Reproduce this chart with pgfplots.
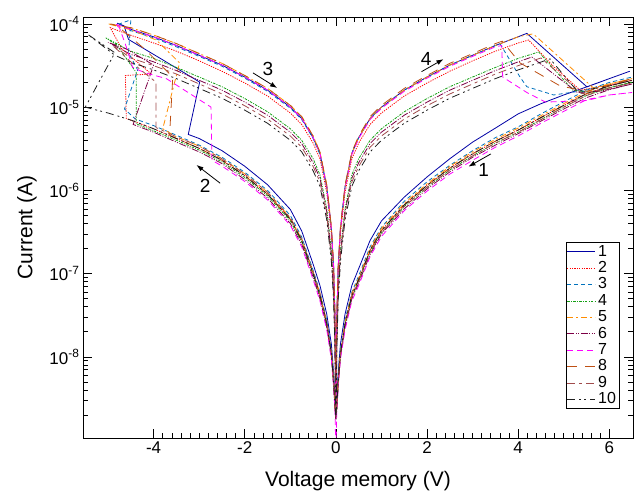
\documentclass[border=0pt]{standalone}
\usepackage{fontspec}
\setmainfont{Liberation Sans}
\usepackage{pgfplots}
\pgfplotsset{compat=1.18}
\usetikzlibrary{arrows.meta}

\definecolor{c1}{RGB}{0,0,165}
\definecolor{c2}{RGB}{255,0,0}
\definecolor{c3}{RGB}{0,114,189}
\definecolor{c4}{RGB}{20,160,20}
\definecolor{c5}{RGB}{255,140,0}
\definecolor{c6}{RGB}{125,0,70}
\definecolor{c7}{RGB}{255,0,255}
\definecolor{c8}{RGB}{190,80,20}
\definecolor{c9}{RGB}{160,75,75}
\definecolor{c10}{RGB}{30,30,30}

\pgfplotsset{
  s1/.style={c1, line width=0.8pt, solid},
  s2/.style={c2, line width=0.8pt, dash pattern=on 1.2pt off 1.2pt},
  s3/.style={c3, line width=0.8pt, dash pattern=on 4pt off 3pt},
  s4/.style={c4, line width=0.8pt, dash pattern=on 2.5pt off 1.2pt on 1pt off 1.2pt},
  s5/.style={c5, line width=0.8pt, dash pattern=on 6pt off 3pt on 2pt off 3pt},
  s6/.style={c6, line width=0.8pt, dash pattern=on 7pt off 1.5pt on 1pt off 1.5pt on 1pt off 1.5pt},
  s7/.style={c7, line width=0.8pt, dash pattern=on 6pt off 4pt},
  s8/.style={c8, line width=0.8pt, dash pattern=on 10pt off 8pt},
  s9/.style={c9, line width=0.8pt, dash pattern=on 8pt off 4pt on 3pt off 4pt},
  s10/.style={c10, line width=0.8pt, dash pattern=on 8pt off 4pt on 2pt off 3pt on 2pt off 4pt},
}

\begin{document}
\begin{tikzpicture}
\useasboundingbox (-83pt,-55pt) rectangle (554pt,438pt);
\begin{axis}[
    at={(0pt,0pt)}, anchor=south west,
    scale only axis,
    width=550pt, height=421pt,
    ymode=log, log basis y=10,
    xmin=-5.55, xmax=6.52,
    ymin=1.06e-9, ymax=1.21e-4,
    xtick={-4,-2,0,2,4,6},
    xticklabels={-4,-2,0,2,4,6},
    minor x tick num=9,
    yticklabel={10\textsuperscript{\pgfmathparse{int(round(\tick))}\pgfmathresult}},
    tick align=inside,
    major tick length=9pt,
    minor tick length=5pt,
    axis line style={line width=0.8pt},
    every tick/.style={black, line width=0.7pt},
    ticklabel style={font=\fontsize{17}{20}\selectfont},
    /pgf/number format/assume math mode=true,
    xlabel={Voltage memory (V)},
    ylabel={Current (A)},
    xlabel shift=11pt,
    ylabel shift=6pt,
    label style={font=\fontsize{21}{24}\selectfont},
    legend style={at={(0.976,0.069)}, anchor=south east, draw=black,
      line width=0.7pt, fill=white, font=\fontsize{16}{16}\selectfont,
      inner xsep=1pt, inner ysep=1pt, row sep=0pt,
      nodes={text height=11.5pt, text depth=2.9pt, inner xsep=2.5pt, inner ysep=1pt},
      cells={anchor=west}},
    legend image code/.code={\draw[#1] (0pt,0pt) -- (28pt,0pt);},
]

% 1
\addplot[s1] coordinates {
(0.005,5e-9)(0.02,3e-8)(0.05,1.2e-7)(0.1,3.5e-7)(0.2,1.1e-6)(0.35,2.8e-6)(0.5,4.3e-6)(0.75,7.3e-6)(1,1e-5)(1.5,1.6e-5)(2,2.3e-5)(2.5,3.2e-5)(3,4.2e-5)(3.5,5.5e-5)(4,7e-5)(4.19,7.7e-5)
(5.51,1.75e-5)(6,2.2e-5)(6.45,2.7e-5)
(6,2.2e-5)(5.5,1.75e-5)(5,1.4e-5)(4.5,1.1e-5)(4,8.3e-6)(3.5,5.6e-6)(3,3.8e-6)(2.5,2.4e-6)(2,1.45e-6)(1.5,8.3e-7)(1,4.3e-7)(0.75,2.5e-7)(0.5,1.15e-7)(0.35,7.2e-8)(0.2,3.25e-8)(0.1,1.43e-8)(0.05,6.5e-9)(0.02,3.4e-9)(0.005,2.4e-9)
(-0.005,2.4e-9)(-0.02,3.4e-9)(-0.05,6.5e-9)(-0.1,1.43e-8)(-0.2,3.25e-8)(-0.35,7.2e-8)(-0.5,1.3e-7)(-0.75,3.25e-7)(-1,5.9e-7)(-1.5,1.17e-6)(-2,1.95e-6)(-2.5,3e-6)(-3,4.2e-6)(-3.24,4.7e-6)
(-2.99,2e-5)(-3.87,3.9e-5)(-4.55,6.5e-5)(-4.65,9.5e-5)(-4.8,1.02e-4)
(-4.5,8.6e-5)(-4,7e-5)(-3.5,5.5e-5)(-3,4.2e-5)(-2.5,3.2e-5)(-2,2.3e-5)(-1.5,1.6e-5)(-1,1e-5)(-0.75,7.3e-6)(-0.5,4.3e-6)(-0.35,2.8e-6)(-0.2,1.1e-6)(-0.1,3.5e-7)(-0.05,1.2e-7)(-0.02,3e-8)(-0.005,5e-9)
};
\addlegendentry{1}

% 2
\addplot[s2] coordinates {
(0.005,4.3e-9)(0.02,2.6e-8)(0.05,1e-7)(0.1,3e-7)(0.2,9.4e-7)(0.35,2.4e-6)(0.5,3.7e-6)(0.75,6.2e-6)(1,8.5e-6)(1.5,1.36e-5)(2,1.95e-5)(2.5,2.7e-5)(3,3.6e-5)(3.5,4.7e-5)(4,5.9e-5)(4.23,6.4e-5)
(4.77,3.1e-5)(5.36,1.6e-5)(6,1.85e-5)(6.5,2.1e-5)
(6,1.8e-5)(5.5,1.45e-5)(5,1.05e-5)(4.5,7.5e-6)(4,5.3e-6)(3.5,3.9e-6)(3,2.75e-6)(2.5,1.85e-6)(2,1.15e-6)(1.5,6.7e-7)(1,3.3e-7)(0.75,1.9e-7)(0.5,8.5e-8)(0.35,5.5e-8)(0.2,2.5e-8)(0.1,1.1e-8)(0.05,5e-9)(0.02,2.6e-9)(0.005,2e-9)
(-0.005,2e-9)(-0.02,2.6e-9)(-0.05,5e-9)(-0.1,1.1e-8)(-0.2,2.5e-8)(-0.35,5.5e-8)(-0.5,1e-7)(-0.75,2.5e-7)(-1,4.5e-7)(-1.5,9e-7)(-2,1.5e-6)(-2.5,2.3e-6)(-3,3.2e-6)(-3.5,4.2e-6)(-4,5.5e-6)(-4.6,7.3e-6)
(-4.62,2.4e-5)(-4.05,2.5e-5)(-4.7,5e-5)(-4.95,9e-5)
(-4.5,7.3e-5)(-4,5.9e-5)(-3.5,4.7e-5)(-3,3.6e-5)(-2.5,2.7e-5)(-2,1.95e-5)(-1.5,1.36e-5)(-1,8.5e-6)(-0.75,6.2e-6)(-0.5,3.7e-6)(-0.35,2.4e-6)(-0.2,9.4e-7)(-0.1,3e-7)(-0.05,1e-7)(-0.02,2.6e-8)(-0.005,4.3e-9)
};
\addlegendentry{2}

% 3
\addplot[s3] coordinates {
(0.005,5e-9)(0.02,3e-8)(0.05,1.2e-7)(0.1,3.5e-7)(0.2,1.1e-6)(0.35,2.8e-6)(0.5,4.3e-6)(0.75,7.3e-6)(1,1e-5)(1.5,1.6e-5)(2,2.3e-5)(2.5,3.2e-5)(3,4.2e-5)(3.5,5.5e-5)(3.6,5.8e-5)
(4.04,2.3e-5)(4.19,1.76e-5)(4.78,1.4e-5)(5.5,1.6e-5)(6,1.98e-5)(6.5,2.3e-5)
(6,1.98e-5)(5.5,1.6e-5)(5,1.16e-5)(4.5,8.3e-6)(4,5.8e-6)(3.5,4.3e-6)(3,3e-6)(2.5,2e-6)(2,1.27e-6)(1.5,7.4e-7)(1,3.6e-7)(0.75,2.1e-7)(0.5,9.4e-8)(0.35,6e-8)(0.2,2.75e-8)(0.1,1.2e-8)(0.05,5.5e-9)(0.02,2.9e-9)(0.005,2.2e-9)
(-0.005,2.2e-9)(-0.02,2.9e-9)(-0.05,5.5e-9)(-0.1,1.2e-8)(-0.2,2.75e-8)(-0.35,6e-8)(-0.5,1.1e-7)(-0.75,2.75e-7)(-1,5e-7)(-1.5,1e-6)(-2,1.65e-6)(-2.5,2.5e-6)(-3,3.5e-6)(-3.5,4.6e-6)(-4,6e-6)(-4.4,7.2e-6)(-4.64,9.5e-6)
(-4.35,2.8e-5)(-4.55,4.5e-5)(-4.5,1.12e-4)(-4.75,1e-4)
(-4.5,8.3e-5)(-4,6.8e-5)(-3.5,5.3e-5)(-3,4.07e-5)(-2.5,3.1e-5)(-2,2.23e-5)(-1.5,1.55e-5)(-1,9.7e-6)(-0.75,7.1e-6)(-0.5,4.2e-6)(-0.35,2.7e-6)(-0.2,1.07e-6)(-0.1,3.4e-7)(-0.05,1.16e-7)(-0.02,2.9e-8)(-0.005,4.8e-9)
};
\addlegendentry{3}

% 4
\addplot[s4] coordinates {
(0.005,2.8e-9)(0.02,1.65e-8)(0.05,6.6e-8)(0.1,1.9e-7)(0.2,6e-7)(0.35,1.54e-6)(0.5,2.4e-6)(0.75,4e-6)(1,5.5e-6)(1.5,8.8e-6)(2,1.27e-5)(2.5,1.76e-5)(3,2.3e-5)(3.5,3e-5)(4,3.85e-5)(4.45,4.6e-5)
(5.2,1.6e-5)(5.6,1.5e-5)(6,1.71e-5)(6.5,2e-5)
(6,1.71e-5)(5.5,1.38e-5)(5,1e-5)(4.5,7.1e-6)(4,5e-6)(3.5,3.7e-6)(3,2.6e-6)(2.5,1.76e-6)(2,1.09e-6)(1.5,6.4e-7)(1,3.1e-7)(0.75,1.8e-7)(0.5,8.1e-8)(0.35,5.2e-8)(0.2,2.4e-8)(0.1,1.05e-8)(0.05,4.8e-9)(0.02,2.5e-9)(0.005,1.9e-9)
(-0.005,1.9e-9)(-0.02,2.5e-9)(-0.05,4.8e-9)(-0.1,1.05e-8)(-0.2,2.4e-8)(-0.35,5.2e-8)(-0.5,9.5e-8)(-0.75,2.4e-7)(-1,4.3e-7)(-1.5,8.6e-7)(-2,1.43e-6)(-2.5,2.2e-6)(-3,3.05e-6)(-3.5,4e-6)(-4,5.2e-6)(-4.38,6.3e-6)
(-4.38,2.6e-5)(-4.8,5.5e-5)(-5.05,6.8e-5)
(-4.5,4.7e-5)(-4,3.85e-5)(-3.5,3e-5)(-3,2.3e-5)(-2.5,1.76e-5)(-2,1.27e-5)(-1.5,8.8e-6)(-1,5.5e-6)(-0.75,4e-6)(-0.5,2.4e-6)(-0.35,1.54e-6)(-0.2,6e-7)(-0.1,1.9e-7)(-0.05,6.6e-8)(-0.02,1.65e-8)(-0.005,2.8e-9)
};
\addlegendentry{4}

% 5
\addplot[s5] coordinates {
(0.005,5e-9)(0.02,3e-8)(0.05,1.2e-7)(0.1,3.5e-7)(0.2,1.1e-6)(0.35,2.8e-6)(0.5,4.3e-6)(0.75,7.3e-6)(1,1e-5)(1.5,1.6e-5)(2,2.3e-5)(2.5,3.2e-5)(3,4.2e-5)(3.5,5.5e-5)(4,7e-5)(4.33,7.6e-5)
(5.65,1.7e-5)(6,1.9e-5)(6.5,2.2e-5)
(6,1.9e-5)(5.5,1.52e-5)(5,1.1e-5)(4.5,7.9e-6)(4,5.6e-6)(3.5,4.1e-6)(3,2.9e-6)(2.5,1.94e-6)(2,1.2e-6)(1.5,7e-7)(1,3.5e-7)(0.75,2e-7)(0.5,8.9e-8)(0.35,5.8e-8)(0.2,2.6e-8)(0.1,1.15e-8)(0.05,5.3e-9)(0.02,2.7e-9)(0.005,2.1e-9)
(-0.005,2.1e-9)(-0.02,2.7e-9)(-0.05,5.3e-9)(-0.1,1.15e-8)(-0.2,2.6e-8)(-0.35,5.8e-8)(-0.5,1.05e-7)(-0.75,2.6e-7)(-1,4.7e-7)(-1.5,9.5e-7)(-2,1.58e-6)(-2.5,2.4e-6)(-3,3.4e-6)(-3.5,4.4e-6)(-3.8,5.5e-6)
(-3.43,3.4e-5)(-3.94,6.4e-5)(-4.5,8.5e-5)(-5,1e-4)
(-4.5,9e-5)(-4,7.35e-5)(-3.5,5.8e-5)(-3,4.4e-5)(-2.5,3.36e-5)(-2,2.4e-5)(-1.5,1.68e-5)(-1,1.05e-5)(-0.75,7.7e-6)(-0.5,4.5e-6)(-0.35,2.9e-6)(-0.2,1.16e-6)(-0.1,3.7e-7)(-0.05,1.26e-7)(-0.02,3.2e-8)(-0.005,5.2e-9)
};
\addlegendentry{5}

% 6
\addplot[s6] coordinates {
(0.005,2.5e-9)(0.02,1.5e-8)(0.05,6e-8)(0.1,1.75e-7)(0.2,5.5e-7)(0.35,1.4e-6)(0.5,2.15e-6)(0.75,3.65e-6)(1,5e-6)(1.5,8e-6)(2,1.15e-5)(2.5,1.6e-5)(3,2.1e-5)(3.5,2.75e-5)(4,3.5e-5)(4.3,4e-5)
(5.3,1.5e-5)(5.8,1.55e-5)(6.5,1.9e-5)
(6,1.62e-5)(5.5,1.3e-5)(5,9.5e-6)(4.5,6.8e-6)(4,4.8e-6)(3.5,3.5e-6)(3,2.5e-6)(2.5,1.67e-6)(2,1.04e-6)(1.5,6e-7)(1,3e-7)(0.75,1.7e-7)(0.5,7.7e-8)(0.35,5e-8)(0.2,2.25e-8)(0.1,1e-8)(0.05,4.5e-9)(0.02,2.3e-9)(0.005,1.8e-9)
(-0.005,1.8e-9)(-0.02,2.3e-9)(-0.05,4.5e-9)(-0.1,1e-8)(-0.2,2.25e-8)(-0.35,5e-8)(-0.5,9e-8)(-0.75,2.25e-7)(-1,4e-7)(-1.5,8.1e-7)(-2,1.35e-6)(-2.5,2.1e-6)(-3,2.9e-6)(-3.5,3.8e-6)(-4,5e-6)(-4.45,6.2e-6)
(-4,3.2e-5)(-4.6,5e-5)(-5,6e-5)
(-4.5,4.3e-5)(-4,3.5e-5)(-3.5,2.75e-5)(-3,2.1e-5)(-2.5,1.6e-5)(-2,1.15e-5)(-1.5,8e-6)(-1,5e-6)(-0.75,3.65e-6)(-0.5,2.15e-6)(-0.35,1.4e-6)(-0.2,5.5e-7)(-0.1,1.75e-7)(-0.05,6e-8)(-0.02,1.5e-8)(-0.005,2.5e-9)
};
\addlegendentry{6}

% 7
\addplot[s7] coordinates {
(0.003,2e-9)(0.02,2.9e-8)(0.05,1.16e-7)(0.1,3.4e-7)(0.2,1.07e-6)(0.35,2.7e-6)(0.5,4.2e-6)(0.75,7.1e-6)(1,9.7e-6)(1.5,1.55e-5)(2,2.23e-5)(2.5,3.1e-5)(3,4.07e-5)(3.5,5.3e-5)(3.64,5.5e-5)
(3.66,2.3e-5)(4.19,1.5e-5)(4.6,1.15e-5)(5.5,1.2e-5)(6,1.4e-5)(6.5,1.5e-5)
(6,1.4e-5)(5.5,1.23e-5)(5,8.9e-6)(4.5,6.4e-6)(4,4.5e-6)(3.5,3.3e-6)(3,2.3e-6)(2.5,1.57e-6)(2,9.8e-7)(1.5,5.7e-7)(1,2.8e-7)(0.75,1.6e-7)(0.5,7.2e-8)(0.35,4.7e-8)(0.2,2.1e-8)(0.1,9.4e-9)(0.05,4.3e-9)(0.02,2.2e-9)(0.003,8e-10)
(-0.003,8e-10)(-0.02,2.2e-9)(-0.05,4.3e-9)(-0.1,9.4e-9)(-0.2,2.1e-8)(-0.35,4.7e-8)(-0.5,8.5e-8)(-0.75,2.1e-7)(-1,3.8e-7)(-1.5,7.7e-7)(-2,1.28e-6)(-2.5,1.96e-6)(-2.72,2.3e-6)
(-2.74,1e-5)(-3.72,2.2e-5)(-4.2,2.6e-5)(-4.46,3e-5)(-4.6,5.3e-5)(-4.75,9e-5)(-4.85,1e-4)
(-4.5,8.6e-5)(-4,7e-5)(-3.5,5.5e-5)(-3,4.2e-5)(-2.5,3.2e-5)(-2,2.3e-5)(-1.5,1.6e-5)(-1,1e-5)(-0.75,7.3e-6)(-0.5,4.3e-6)(-0.35,2.8e-6)(-0.2,1.1e-6)(-0.1,3.5e-7)(-0.05,1.2e-7)(-0.02,3e-8)(-0.003,2e-9)
};
\addlegendentry{7}

% 8
\addplot[s8] coordinates {
(0.005,5.2e-9)(0.02,3.2e-8)(0.05,1.26e-7)(0.1,3.7e-7)(0.2,1.16e-6)(0.35,2.9e-6)(0.5,4.5e-6)(0.75,7.7e-6)(1,1.05e-5)(1.5,1.68e-5)(2,2.4e-5)(2.5,3.36e-5)(3,4.4e-5)(3.5,5.8e-5)(3.65,6.2e-5)
(4.04,3.4e-5)(4.92,1.8e-5)(5.5,1.55e-5)(6,1.85e-5)(6.5,2.2e-5)
(6,1.8e-5)(5.5,1.45e-5)(5,1.05e-5)(4.5,7.5e-6)(4,5.3e-6)(3.5,3.9e-6)(3,2.75e-6)(2.5,1.85e-6)(2,1.15e-6)(1.5,6.7e-7)(1,3.3e-7)(0.75,1.9e-7)(0.5,8.5e-8)(0.35,5.5e-8)(0.2,2.5e-8)(0.1,1.1e-8)(0.05,5e-9)(0.02,2.6e-9)(0.005,2e-9)
(-0.005,2e-9)(-0.02,2.6e-9)(-0.05,5e-9)(-0.1,1.1e-8)(-0.2,2.5e-8)(-0.35,5.5e-8)(-0.5,1e-7)(-0.75,2.5e-7)(-1,4.5e-7)(-1.5,9e-7)(-2,1.5e-6)(-2.5,2.3e-6)(-3,3.2e-6)(-3.5,4.2e-6)(-3.65,4.6e-6)
(-3.58,2.3e-5)(-4.2,5e-5)(-4.8,9.5e-5)(-4.95,1e-4)
(-4.5,9e-5)(-4,7.35e-5)(-3.5,5.8e-5)(-3,4.4e-5)(-2.5,3.36e-5)(-2,2.4e-5)(-1.5,1.68e-5)(-1,1.05e-5)(-0.75,7.7e-6)(-0.5,4.5e-6)(-0.35,2.9e-6)(-0.2,1.16e-6)(-0.1,3.7e-7)(-0.05,1.26e-7)(-0.02,3.2e-8)(-0.005,5.2e-9)
};
\addlegendentry{8}

% 9
\addplot[s9] coordinates {
(0.005,2.3e-9)(0.02,1.35e-8)(0.05,5.4e-8)(0.1,1.6e-7)(0.2,5e-7)(0.35,1.26e-6)(0.5,1.94e-6)(0.75,3.3e-6)(1,4.5e-6)(1.5,7.2e-6)(2,1.04e-5)(2.5,1.44e-5)(3,1.9e-5)(3.5,2.5e-5)(4,3.15e-5)(4.5,3.9e-5)
(5.4,1.45e-5)(6,1.7e-5)(6.5,1.95e-5)
(6,1.71e-5)(5.5,1.38e-5)(5,1e-5)(4.5,7.1e-6)(4,5e-6)(3.5,3.7e-6)(3,2.6e-6)(2.5,1.76e-6)(2,1.09e-6)(1.5,6.4e-7)(1,3.1e-7)(0.75,1.8e-7)(0.5,8.1e-8)(0.35,5.2e-8)(0.2,2.4e-8)(0.1,1.05e-8)(0.05,4.8e-9)(0.02,2.5e-9)(0.005,1.9e-9)
(-0.005,2.1e-9)(-0.02,2.7e-9)(-0.05,5.3e-9)(-0.1,1.15e-8)(-0.2,2.6e-8)(-0.35,5.8e-8)(-0.5,1.05e-7)(-0.75,2.6e-7)(-1,4.7e-7)(-1.5,9.5e-7)(-2,1.58e-6)(-2.5,2.4e-6)(-3,3.4e-6)(-3.5,4.4e-6)(-3.95,5.7e-6)
(-3.95,2e-5)(-4.5,3.5e-5)(-4.9,5.5e-5)
(-4.5,3.9e-5)(-4,3.15e-5)(-3.5,2.5e-5)(-3,1.9e-5)(-2.5,1.44e-5)(-2,1.04e-5)(-1.5,7.2e-6)(-1,4.5e-6)(-0.75,3.3e-6)(-0.5,1.94e-6)(-0.35,1.26e-6)(-0.2,5e-7)(-0.1,1.6e-7)(-0.05,5.4e-8)(-0.02,1.35e-8)(-0.005,2.3e-9)
};
\addlegendentry{9}

% 10
\addplot[s10] coordinates {
(0.005,2e-9)(0.02,1.2e-8)(0.05,4.8e-8)(0.1,1.4e-7)(0.2,4.4e-7)(0.35,1.12e-6)(0.5,1.72e-6)(0.75,2.9e-6)(1,4e-6)(1.5,6.4e-6)(2,9.2e-6)(2.5,1.28e-5)(3,1.68e-5)(3.5,2.2e-5)(4,2.8e-5)(4.7,3.8e-5)
(5.3,1.55e-5)(6,1.8e-5)(6.5,2.1e-5)
(6,1.8e-5)(5.5,1.45e-5)(5,1.05e-5)(4.5,7.5e-6)(4,5.3e-6)(3.5,3.9e-6)(3,2.75e-6)(2.5,1.85e-6)(2,1.15e-6)(1.5,6.7e-7)(1,3.3e-7)(0.75,1.9e-7)(0.5,8.5e-8)(0.35,5.5e-8)(0.2,2.5e-8)(0.1,1.1e-8)(0.05,5e-9)(0.02,2.6e-9)(0.005,2e-9)
(-0.005,2e-9)(-0.02,2.6e-9)(-0.05,5e-9)(-0.1,1.1e-8)(-0.2,2.5e-8)(-0.35,5.5e-8)(-0.5,1e-7)(-0.75,2.5e-7)(-1,4.5e-7)(-1.5,9e-7)(-2,1.5e-6)(-2.5,2.3e-6)(-3,3.2e-6)(-3.5,4.2e-6)(-4,5.5e-6)(-4.5,7e-6)(-5,8.5e-6)(-5.5,1e-5)
(-4.85,4.5e-5)(-5.45,7.5e-5)
(-4.85,4.2e-5)(-4.5,3.45e-5)(-4,2.8e-5)(-3.5,2.2e-5)(-3,1.68e-5)(-2.5,1.28e-5)(-2,9.2e-6)(-1.5,6.4e-6)(-1,4e-6)(-0.75,2.9e-6)(-0.5,1.72e-6)(-0.35,1.12e-6)(-0.2,4.4e-7)(-0.1,1.4e-7)(-0.05,4.8e-8)(-0.02,1.2e-8)(-0.005,2e-9)
};
\addlegendentry{10}

% sweep direction arrows
\draw[-{Latex[length=7pt,width=5pt]}, line width=0.8pt] (axis cs:3.40,2.74e-6) -- (axis cs:2.91,1.93e-6);
\node[font=\fontsize{19}{19}\selectfont] at (axis cs:3.24,1.75e-6) {1};
\draw[-{Latex[length=7pt,width=5pt]}, line width=0.8pt] (axis cs:-2.54,1.22e-6) -- (axis cs:-3.06,2.02e-6);
\node[font=\fontsize{19}{19}\selectfont] at (axis cs:-2.87,1.12e-6) {2};
\draw[-{Latex[length=7pt,width=5pt]}, line width=0.8pt] (axis cs:-1.82,2.58e-5) -- (axis cs:-1.29,1.70e-5);
\node[font=\fontsize{19}{19}\selectfont] at (axis cs:-1.49,2.9e-5) {3};
\draw[-{Latex[length=7pt,width=5pt]}, line width=0.8pt] (axis cs:1.88,2.67e-5) -- (axis cs:2.36,3.77e-5);
\node[font=\fontsize{19}{19}\selectfont] at (axis cs:1.98,3.8e-5) {4};
\end{axis}
\end{tikzpicture}
\end{document}
